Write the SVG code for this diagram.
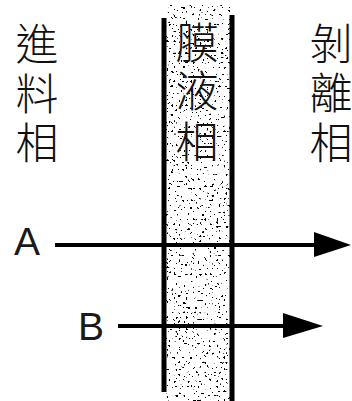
<svg xmlns="http://www.w3.org/2000/svg" width="352" height="401" viewBox="0 0 352 401">
  <defs>
    <style>
      .cjk { font-family: "Noto Sans CJK TC", "Noto Sans CJK JP", sans-serif; font-size: 43px; font-weight: 300; fill: #111; text-anchor: middle; }
      .lat { font-family: "Liberation Sans", Arial, sans-serif; font-size: 39px; fill: #1a1a1a; text-anchor: middle; }
      .wall { stroke: #000; stroke-width: 5; fill: none; }
      .flow { stroke: #000; stroke-width: 4; fill: none; }
      .head { fill: #000; stroke: none; }
    </style>
    <filter id="stipple" x="0" y="0" width="100%" height="100%" filterUnits="objectBoundingBox">
      <feTurbulence type="fractalNoise" baseFrequency="0.42" numOctaves="1" seed="7" result="n"/>
      <feColorMatrix in="n" type="matrix" values="0 0 0 0 0  0 0 0 0 0  0 0 0 0 0  -40 0 0 0 13.8"/>
    </filter>
  </defs>
  <rect x="0" y="0" width="352" height="401" fill="#fff"/>

  <g id="feed-phase">
    <text class="cjk" x="37" y="60">進</text>
    <text class="cjk" x="37" y="110">料</text>
    <text class="cjk" x="37" y="159">相</text>
  </g>

  <g id="membrane">
    <rect x="166" y="5" width="64" height="396" fill="#fff"/>
    <rect x="166" y="5" width="64" height="396" fill="#fff" filter="url(#stipple)"/>
    <text class="cjk" x="197" y="59">膜</text>
    <text class="cjk" x="197" y="107">液</text>
    <text class="cjk" x="197" y="158">相</text>
  </g>

  <g id="strip-phase">
    <text class="cjk" x="331" y="60">剝</text>
    <text class="cjk" x="331" y="109">離</text>
    <text class="cjk" x="331" y="159">相</text>
  </g>

  <g id="label-A"><text class="lat" x="27" y="255">A</text></g>
  <g id="label-B"><text class="lat" x="91" y="340">B</text></g>

  <g id="connectors">
    <line class="flow" x1="55" y1="245" x2="316" y2="245"/>
    <polygon class="head" points="314,232 351,245 314,257"/>
    <line class="flow" x1="118" y1="326" x2="285" y2="326"/>
    <polygon class="head" points="283,313 323,326 283,338"/>
  </g>

  <g id="membrane-walls">
    <line class="wall" x1="164" y1="18" x2="164" y2="392"/>
    <line class="wall" x1="232" y1="15" x2="232" y2="401"/>
  </g>
</svg>
